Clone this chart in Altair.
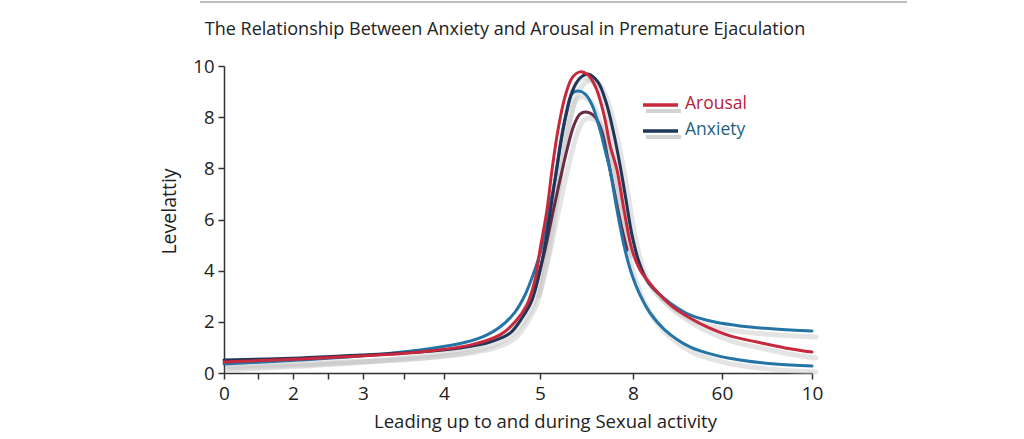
import altair as alt
import pandas as pd

# ---- data (x in axis-position units 0..100, y in axis units 0..12) ----
arousal_x = [0, 12.93, 23.13, 33.33, 41.84, 46.94, 49.49, 51.53, 52.89, 53.74, 54.93, 55.78, 56.80, 57.99, 59.18, 60.54, 61.90, 63.27, 64.63, 65.65, 66.84, 68.03, 69.39, 70.75, 71.94, 74.15, 76.36, 79.25, 82.14, 86.05, 90.65, 95.41, 100]
arousal_y = [0.43, 0.55, 0.66, 0.82, 1.09, 1.49, 1.99, 2.66, 3.64, 4.81, 6.37, 7.93, 9.50, 10.79, 11.53, 11.77, 11.65, 11.14, 10.08, 8.91, 7.93, 6.37, 4.81, 4.03, 3.64, 3.05, 2.58, 2.15, 1.80, 1.45, 1.21, 0.98, 0.82]

teal_x = [0, 12.93, 23.13, 33.33, 40.14, 43.54, 46.94, 49.49, 51.19, 52.55, 53.91, 55.27, 56.46, 57.31, 58.33, 59.18, 60.20, 61.39, 62.59, 63.95, 64.80, 65.65, 66.84, 68.20, 69.39, 70.75, 72.45, 75.0, 79.25, 83.50, 87.76, 93.71, 100]
teal_y = [0.35, 0.51, 0.66, 0.90, 1.15, 1.37, 1.80, 2.38, 3.05, 3.83, 4.81, 6.37, 7.74, 9.11, 10.28, 10.91, 11.02, 10.91, 10.48, 9.50, 8.72, 7.93, 6.37, 4.81, 3.83, 3.05, 2.35, 1.68, 1.02, 0.70, 0.51, 0.35, 0.27]

navy_x = [0, 12.93, 23.13, 33.33, 40.14, 45.24, 48.64, 50.68, 52.38, 53.74, 54.76, 55.78, 56.80, 57.99, 59.18, 60.54, 61.90, 63.61, 64.97, 66.16, 67.35, 68.37, 69.39, 70.58, 72.11, 73.81]
navy_y = [0.51, 0.59, 0.70, 0.82, 0.98, 1.21, 1.56, 2.15, 2.85, 4.03, 5.20, 6.76, 8.33, 9.89, 10.98, 11.53, 11.69, 11.37, 10.59, 9.50, 8.13, 6.76, 5.39, 4.34, 3.56, 3.13]

tail_x = [73.81, 75.85, 79.25, 83.50, 87.76, 93.71, 100]
tail_y = [3.13, 2.74, 2.27, 1.99, 1.84, 1.72, 1.64]

maroon_x = [52.89, 54.59, 55.95, 57.14, 58.33, 59.52, 60.54, 61.56, 63.10, 64.29, 65.31, 66.33, 67.35, 68.54]
maroon_y = [3.24, 4.81, 6.29, 7.54, 8.72, 9.69, 10.12, 10.20, 10.01, 9.42, 8.33, 7.15, 5.98, 4.81]

series_names = ["maroon", "teal", "navy", "tail", "arousal"]
series_colors = ["#6b2b45", "#2474a6", "#1f3658", "#2474a6", "#c8283c"]

x_tick_values = [0, 5.78, 11.73, 17.69, 23.64, 30.61, 37.41, 53.74, 69.56, 84.69, 100]
x_tick_labels = ["0", "", "2", "", "3", "", "4", "5", "8", "60", "10"]
y_tick_values = [0, 2, 4, 6, 8, 10, 12]
y_tick_labels = ["0", "2", "4", "6", "8", "8", "10"]

legend_labels = ["Arousal", "Anxiety"]
legend_line_colors = ["#c8283c", "#1f3658"]
legend_text_colors = ["#b8203a", "#1f5f80"]

TITLE = "The Relationship Between Anxiety and Arousal in Premature Ejaculation"
FONT = "Open Sans"

rows = []
for name, xs, ys in [("maroon", maroon_x, maroon_y), ("teal", teal_x, teal_y),
                     ("navy", navy_x, navy_y), ("tail", tail_x, tail_y),
                     ("arousal", arousal_x, arousal_y)]:
    for a, b in zip(xs, ys):
        rows.append({"series": name, "x": a, "y": b, "ord": series_names.index(name)})
df = pd.DataFrame(rows)


def label_expr(values, labels):
    expr = "datum.label"
    for v, l in reversed(list(zip(values, labels))):
        expr = f"datum.value == {v} ? '{l}' : ({expr})"
    return expr


x_enc = alt.X("x:Q", scale=alt.Scale(domain=[0, 100], nice=False, zero=False),
              axis=alt.Axis(values=x_tick_values, labelExpr=label_expr(x_tick_values, x_tick_labels),
                            title="Leading up to and during Sexual activity",
                            grid=False, domainColor="#333", domainWidth=1.5, tickColor="#333",
                            tickWidth=1.5, tickSize=6, labelFontSize=19, labelFont=FONT,
                            labelColor="#222", labelPadding=5, labelFlush=False,
                            titleFont=FONT, titleFontSize=18.5, titleFontWeight="normal",
                            titleColor="#222", titleX=321, titleY=54, titleBaseline="alphabetic"))
y_enc = alt.Y("y:Q", scale=alt.Scale(domain=[0, 12], nice=False),
              axis=alt.Axis(values=y_tick_values, labelExpr=label_expr(y_tick_values, y_tick_labels),
                            title="Levelattiy", grid=False, domainColor="#333", domainWidth=1.5,
                            tickColor="#333", tickWidth=1.5, tickSize=6, labelFontSize=18.5,
                            labelFont=FONT, labelColor="#222", labelPadding=4,
                            titleFont=FONT, titleFontSize=19.5, titleFontWeight="normal",
                            titleColor="#222", titleX=-49, titleY=145, titleAngle=-90,
                            titleBaseline="alphabetic"))

base = alt.Chart(df)

shadow = base.mark_line(interpolate="catmull-rom", color="#c4c4c4", strokeWidth=5, opacity=0.45,
                        xOffset=4, yOffset=6, strokeCap="round").encode(
    x=x_enc, y=y_enc, detail="series:N")

lines = base.mark_line(interpolate="catmull-rom", strokeWidth=3, strokeCap="round").encode(
    x=x_enc, y=y_enc,
    color=alt.Color("series:N", scale=alt.Scale(domain=series_names, range=series_colors), legend=None),
    order=alt.Order("ord:Q"))

one = pd.DataFrame({"a": [0]})

# legend drawn manually
legend_layers = []
for i, (lab, lc, tc) in enumerate(zip(legend_labels, legend_line_colors, legend_text_colors)):
    yy = 39 + 26 * i
    legend_layers.append(alt.Chart(one).mark_rule(color="#c8c8c8", strokeWidth=4, opacity=0.8).encode(
        x=alt.value(422), x2=alt.value(457), y=alt.value(yy + 6)))
    legend_layers.append(alt.Chart(one).mark_rule(color=lc, strokeWidth=3.5).encode(
        x=alt.value(419), x2=alt.value(454), y=alt.value(yy)))
    legend_layers.append(alt.Chart(one).mark_text(align="left", baseline="middle", font=FONT,
                                                  fontSize=17.5, color=tc, text=lab).encode(
        x=alt.value(461), y=alt.value(yy - 1)))

top_rule = alt.Chart(one).mark_rule(color="#bdbdbd", strokeWidth=2).encode(
    x=alt.value(-24), x2=alt.value(683), y=alt.value(-64))

title_mark = alt.Chart(one).mark_text(align="center", baseline="alphabetic", font=FONT,
                                      fontSize=18, color="#222", text=TITLE).encode(
    x=alt.value(281), y=alt.value(-31))

chart = alt.layer(top_rule, title_mark, shadow, lines, *legend_layers).properties(
    width=588, height=307,
    autosize=alt.AutoSizeParams(type="none"),
    padding={"left": 224, "top": 66, "right": 212, "bottom": 66},
    background="white",
).configure_view(stroke=None)

chart.save("out.html", embed_options={"renderer": "svg", "actions": False})
